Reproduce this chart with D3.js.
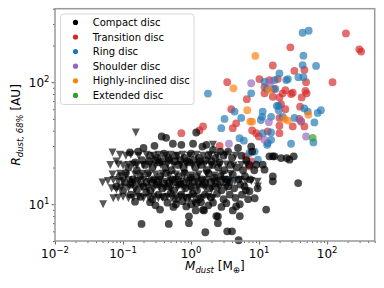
<!DOCTYPE html>
<html>
<head>
<meta charset="utf-8">
<script src="https://cdn.jsdelivr.net/npm/d3@7"></script>
<style>
  body { margin: 0; background: #fff; }
  text { font-family: "DejaVu Sans", sans-serif; fill: #000; }
</style>
</head>
<body>
<div id="chart"></div>
<script>
// data: [M_dust (Earth masses), R_dust,68% (AU)]
const compactCircles = [
  [1.19,38.7],[0.37,35.9],[0.43,35],[0.29,30.1],[0.54,31.3],[0.72,30.7],[1.07,31.3],[1.47,29.7],[1.68,30.7],
  [0.2,28.9],[2.1,27.9],[2.7,27],[3.5,27],[4.9,28.9],[7.65,29.7],[7.9,27],[0.126,26.6],[0.166,27],
  [14.2,24.7],[15.9,24.7],[16.8,24.7],[21,23.9],[25.5,23.9],[32.3,24.7],[27.9,23.2],[9.06,21.1],[11.3,21.1],
  [12,19.2],[15.9,16.9],[15.9,15.4],[37.5,14.9],[12.7,9.04],
  [6.1,14],[7.2,12.8],[8.6,11.2],[4.6,9.6],[5.2,8.0],[2.35,8],[1.5,9],
  [0.187,6.9],[0.47,6.9],[0.93,7.96],[0.93,7.0],[1.62,5.9],[3.4,6.0],[4.0,6.0],[5.0,5.07],[2.48,7.96],[2.48,7.0],
  [0.35,9.04],[1.17,8.9],[1.55,8.9],[4.1,8.9],[1.19,10.2],[2.1,10.3],[3.3,10.2],[0.6,10],[0.85,9.6],[0.45,10.3],
  [2.8,9.5],[5.2,10],
  [0.25,25],[0.32,24],[0.4,26],[0.47,24],[0.6,25],[0.8,24],[1.0,26],[1.3,24],[1.8,25],[2.3,24],[3.0,25],[4.0,24],
  [5.5,25],[6.5,23],
  [0.12,20],[0.16,19],[0.21,21],[0.27,20],[0.34,22],[0.42,20],[0.52,19],[0.65,21],[0.78,20],[0.95,22],[1.15,20],
  [1.4,21],[1.7,19],[2.05,21],[2.5,20],[3.1,19],[3.8,21],[4.7,20],[5.8,19],[7.2,21],[8.5,19],
  [0.09,17],[0.11,18],[0.14,16],[0.18,17],[0.23,18],[0.28,16],[0.35,17],[0.43,18],[0.53,16],[0.66,17],[0.8,18],
  [0.98,16.5],[1.2,17],[1.45,16],[1.8,18],[2.2,16.5],[2.7,17],[3.3,16],[4.1,17.5],[5.0,16],[6.2,17],[7.4,16],
  [0.08,14],[0.1,13],[0.13,14.5],[0.16,13],[0.2,14],[0.25,13],[0.31,14.5],[0.38,13.5],[0.46,14],[0.56,13],
  [0.68,14.5],[0.82,13.5],[1.0,14],[1.22,13],[1.5,14.5],[1.85,13.5],[2.25,14],[2.8,13],[3.5,14],[4.3,13.5],
  [5.3,14.5],[6.4,13],[9.5,13.5],
  [0.13,12],[0.18,11.5],[0.22,12.5],[0.27,11],[0.33,12],[0.4,11.5],[0.5,12.3],[0.6,11],[0.72,12],[0.88,11.3],
  [1.05,12.2],[1.3,11],[1.6,12],[1.95,11.4],[2.4,12.2],[3.0,11],[3.7,12],[4.5,11.3],[5.6,12],[6.9,11],
  [0.15,22],[0.19,23],[0.24,22.5],[0.3,23],[0.38,22.5],[0.48,23],[0.58,22.5],[0.7,23],[0.88,22.5],[1.1,23],
  [1.35,22.5],[1.65,23],[2.0,22.5],[2.6,22],
  [0.105,15],[0.135,15],[0.17,14.8],[0.22,15.2],[0.27,15],[0.33,15.2],[0.4,14.8],[0.48,15],[0.58,15.2],[0.7,14.8],
  [0.85,15],[1.05,15.2],[1.3,14.8],[1.6,15],[1.95,15.2],[2.4,14.8],[3.0,15],[3.7,15.2],
  [0.15,10.5],[0.25,10.4],[0.3,9.8],[0.55,9.5],[0.75,10.6],[1.0,10],[1.4,10.4],[1.8,9.8]
];
// upper limits on radius (downward triangles)
const compactLimits = [
  [0.154,38.7],[0.07,26.6],[0.08,22.4],[0.05,15.1],[0.051,10],[0.072,11.2],[2.1,30.7],[9.6,14],[1.12,10.2],
  [0.09,25.5],[0.11,25],[0.13,25.5],[0.17,25],[0.22,25.5],[0.28,25],[0.33,25.5],[0.42,25],[0.5,25.5],[0.62,25],
  [0.75,25.5],[0.95,25],[1.2,25.5],[1.5,25],[1.9,25.5],[2.4,25],[3.2,25.5],[4.5,25],
  [0.065,21],[0.085,21.2],[0.1,20.8],[0.12,21],[0.14,21.2],[0.16,20.8],[0.2,21],[0.25,21.2],[0.3,20.8],[0.36,21],
  [0.45,21.2],[0.55,20.8],[0.7,21],[0.85,21.2],[1.05,20.8],[1.3,21],[1.6,21.2],[2.0,20.8],[2.6,21],[3.3,21.2],
  [4.2,20.8],[5.5,21],[6.5,21.2],
  [0.07,17.5],[0.09,17.8],[0.11,17.2],[0.15,17.5],[0.19,17.8],[0.24,17.2],[0.3,17.5],[0.38,17.8],[0.48,17.2],
  [0.6,17.5],[0.8,17.8],[1.0,17.2],[1.3,17.5],[1.7,17.8],[2.2,17.2],[2.9,17.5],[3.8,17.8],
  [0.06,15.5],[0.072,15.8],[0.085,15.3],[0.1,15.5],[0.12,15.8],[0.14,15.3],[0.17,15.5],[0.2,15.8],[0.24,15.3],
  [0.29,15.5],[0.35,15.8],[0.42,15.3],[0.5,15.5],[0.6,15.8],[0.72,15.3],[0.86,15.5],[1.0,15.8],[1.2,15.3],
  [1.45,15.5],[1.75,15.8],[2.1,15.3],[2.5,15.5],[3.0,15.8],[3.6,15.3],[4.4,15.5],[5.3,15.8],[6.4,15.3],[7.7,15.5],
  [9.5,15.3],
  [0.068,13.5],[0.08,13.2],[0.095,13.7],[0.12,13.5],[0.15,13.2],[0.19,13.7],[0.23,13.5],[0.28,13.2],[0.34,13.7],
  [0.41,13.5],[0.5,13.2],[0.63,13.7],[0.8,13.5],[1.0,13.2],[1.25,13.7],[1.6,13.5],[2.0,13.2],[2.6,13.7],[3.3,13.5],
  [0.085,11.3],[0.1,11.5],[0.12,11.2],[0.14,11.3],[0.17,11.5],[0.2,11.2],[0.24,11.3],[0.28,11.5],[0.33,11.2],
  [0.38,11.3],[0.45,11.5],[0.52,11.2],[0.6,11.3],[0.7,11.5],[0.82,11.2],[0.95,11.3],[1.1,11.5],[1.3,11.2],
  [1.5,11.3],[1.8,11.5],[2.1,11.2]
];
const transition = [
  [189,251],[297,186],[316,178],[28.8,193],[15.9,137],[33,124],[46.3,126],[49,100],[120,100],[3.4,100],
  [10.1,106],[14.2,104],[18.8,106],[12,91],[12,81],[22.2,81],[24.3,86],[29.5,80],[31.2,82],[15.9,76],[19.9,75],
  [47.9,85],[49.9,81],[42.3,75],[6.6,72.6],[3.9,60],[24.3,60],[40,63],[4.6,46],[19.9,51],[19.9,44],[31.2,43.4],
  [39,50],[41.4,47.6],[46.3,43.4],[4.1,42],[7.9,40.2],[9.06,38.2],[9.9,35.9],[13.4,39.5],[19.9,38.2],[2.63,30.1],
  [0.72,38.2],[1.33,40.2],[1.5,43.4],[6.4,24.7],[7.65,22.4],[7.2,20.4],[16.5,88],[21,66]
];
const ring = [
  [43.6,254],[53.6,264],[44.8,165],[43.6,138],[68.7,136],[19.9,118],[37.8,110],[44.8,110],[12,101],[16.8,104],
  [25,104],[26.5,106],[1.77,80.7],[7.65,81],[13.1,88],[17.3,88],[19.4,64],[4.36,57.5],[11.3,57.5],[18.2,64],
  [19.4,59],[46.3,61],[51.8,57.5],[72.6,56],[81,59],[3.1,50],[5.46,51],[10.6,49],[11.1,52],[15,52],[22.2,52],
  [33,51],[64.9,46.8],[2.78,42],[11.3,38.2],[15,38.7],[5.16,34.8],[5.97,33.2],[15,33.7],[13.4,31.7],[13.1,30.7],
  [29.5,31.3],[62.8,32.1],[7.2,26.3],[8.6,27],[9.6,23.2],[3.5,15.9]
];
const shoulder = [[7.65,98],[14.5,99],[13.9,47],[12,33.7],[3.6,31.3],[49,35.9],[41.4,48]];
const inclined = [[8.8,164],[4.2,89],[13.9,86],[6.7,59],[7.4,47.6],[7.9,47.6],[23.5,50],[26.5,48.5],[53,54]];
const extended = [[61.3,35]];

const legendNames = ["Compact disc", "Transition disc", "Ring disc", "Shoulder disc", "Highly-inclined disc", "Extended disc"];
const legendColors = ["#000000", "#d62728", "#1f77b4", "#9467bd", "#ff7f0e", "#2ca02c"];
const xTickExp = [-2, -1, 0, 1, 2];
const yTickExp = [1, 2];

const width = 384, height = 288;
const margin = {top: 8.7, right: 9.3, bottom: 47, left: 55};

const svg = d3.select("#chart").append("svg")
  .attr("width", width)
  .attr("height", height);

const x = d3.scaleLog().domain([0.01, 500]).range([margin.left, width - margin.right]);
const y = d3.scaleLog().domain([5, 400]).range([height - margin.bottom, margin.top]);

const plot = svg.append("g");

// coloured classes first, compact discs on top
const groups = [
  [transition, legendColors[1]],
  [ring, legendColors[2]],
  [shoulder, legendColors[3]],
  [inclined, legendColors[4]],
  [extended, legendColors[5]]
];
groups.forEach(([data, col]) => {
  plot.append("g").selectAll("circle")
    .data(data)
    .join("circle")
      .attr("cx", d => x(d[0]))
      .attr("cy", d => y(d[1]))
      .attr("r", 3.9)
      .attr("fill", col)
      .attr("fill-opacity", 0.68);
});

// matplotlib-like "v" marker
const triDown = {
  draw(ctx, size) {
    const r = Math.sqrt(size) / 2;
    ctx.moveTo(-r, -r);
    ctx.lineTo(r, -r);
    ctx.lineTo(0, r);
    ctx.closePath();
  }
};
plot.append("g").selectAll("path")
  .data(compactLimits)
  .join("path")
    .attr("transform", d => `translate(${x(d[0])},${y(d[1])})`)
    .attr("d", d3.symbol(triDown, 64))
    .attr("fill", "#000")
    .attr("fill-opacity", 0.66);

plot.append("g").selectAll("circle")
  .data(compactCircles)
  .join("circle")
    .attr("cx", d => x(d[0]))
    .attr("cy", d => y(d[1]))
    .attr("r", 3.9)
    .attr("fill", "#000")
    .attr("fill-opacity", 0.7);

// axes
const xMajor = xTickExp.map(e => Math.pow(10, e));
const yMajor = yTickExp.map(e => Math.pow(10, e));
const xMinor = x.ticks().filter(v => !xMajor.some(m => Math.abs(m - v) / m < 1e-6));
const yMinor = y.ticks().filter(v => !yMajor.some(m => Math.abs(m - v) / m < 1e-6));

function styleAxis(g) {
  g.select(".domain").remove();
  g.selectAll("line").attr("stroke", "#555").attr("stroke-width", 0.9);
}
svg.append("g").attr("transform", `translate(0,${height - margin.bottom})`)
  .call(d3.axisBottom(x).tickValues(xMajor).tickSize(3.5).tickFormat(""))
  .call(styleAxis);
svg.append("g").attr("transform", `translate(0,${height - margin.bottom})`)
  .call(d3.axisBottom(x).tickValues(xMinor).tickSize(2).tickFormat(""))
  .call(styleAxis);
svg.append("g").attr("transform", `translate(${margin.left},0)`)
  .call(d3.axisLeft(y).tickValues(yMajor).tickSize(3.5).tickFormat(""))
  .call(styleAxis);
svg.append("g").attr("transform", `translate(${margin.left},0)`)
  .call(d3.axisLeft(y).tickValues(yMinor).tickSize(2).tickFormat(""))
  .call(styleAxis);

// frame
svg.append("rect")
  .attr("x", margin.left).attr("y", margin.top)
  .attr("width", width - margin.left - margin.right)
  .attr("height", height - margin.top - margin.bottom)
  .attr("fill", "none")
  .attr("stroke", "#999")
  .attr("stroke-width", 1.5);

// tick labels 10^n
function powLabel(sel, e) {
  sel.append("tspan").text("10");
  sel.append("tspan").attr("dy", -5).attr("font-size", 8.5).text(String(e).replace("-", "\u2212"));
}
xTickExp.forEach(e => {
  svg.append("text")
    .attr("x", x(Math.pow(10, e)))
    .attr("y", 257.5)
    .attr("text-anchor", "middle")
    .attr("font-size", 12)
    .call(powLabel, e);
});
yTickExp.forEach(e => {
  svg.append("text")
    .attr("x", margin.left - 5.5)
    .attr("y", y(Math.pow(10, e)) + 4.5)
    .attr("text-anchor", "end")
    .attr("font-size", 12)
    .call(powLabel, e);
});

// axis titles
const xl = svg.append("text")
  .attr("x", (margin.left + width - margin.right) / 2)
  .attr("y", 270)
  .attr("text-anchor", "middle")
  .attr("font-size", 12);
xl.append("tspan").attr("font-style", "italic").text("M");
xl.append("tspan").attr("font-style", "italic").attr("font-size", 8.5).attr("dy", 2.5).text("dust");
xl.append("tspan").attr("dy", -2.5).text(" [M");
xl.append("tspan").attr("font-size", 8.5).attr("dy", 2.5).text("\u2295");
xl.append("tspan").attr("dy", -2.5).text("]");

const yl = svg.append("text")
  .attr("transform", `translate(20,${(margin.top + height - margin.bottom) / 2}) rotate(-90)`)
  .attr("text-anchor", "middle")
  .attr("font-size", 12);
yl.append("tspan").attr("font-style", "italic").text("R");
yl.append("tspan").attr("font-style", "italic").attr("font-size", 8.5).attr("dy", 2.5).text("dust, 68%");
yl.append("tspan").attr("dy", -2.5).text(" [AU]");

// legend
const legend = svg.append("g");
legend.append("rect")
  .attr("x", 60.5).attr("y", 14)
  .attr("width", 133.5).attr("height", 90.5)
  .attr("rx", 3)
  .attr("fill", "#fff").attr("fill-opacity", 0.8)
  .attr("stroke", "#d6d6d6").attr("stroke-width", 1);
const rows = legend.selectAll("g.row")
  .data(legendNames)
  .join("g")
    .attr("class", "row")
    .attr("transform", (d, i) => `translate(0,${22.4 + i * 14.6})`);
rows.append("circle")
  .attr("cx", 75.5).attr("cy", 0).attr("r", 2.6)
  .attr("fill", (d, i) => legendColors[i]);
rows.append("text")
  .attr("x", 92.7).attr("y", 3.6)
  .attr("font-size", 10)
  .text(d => d);
</script>
</body>
</html>
